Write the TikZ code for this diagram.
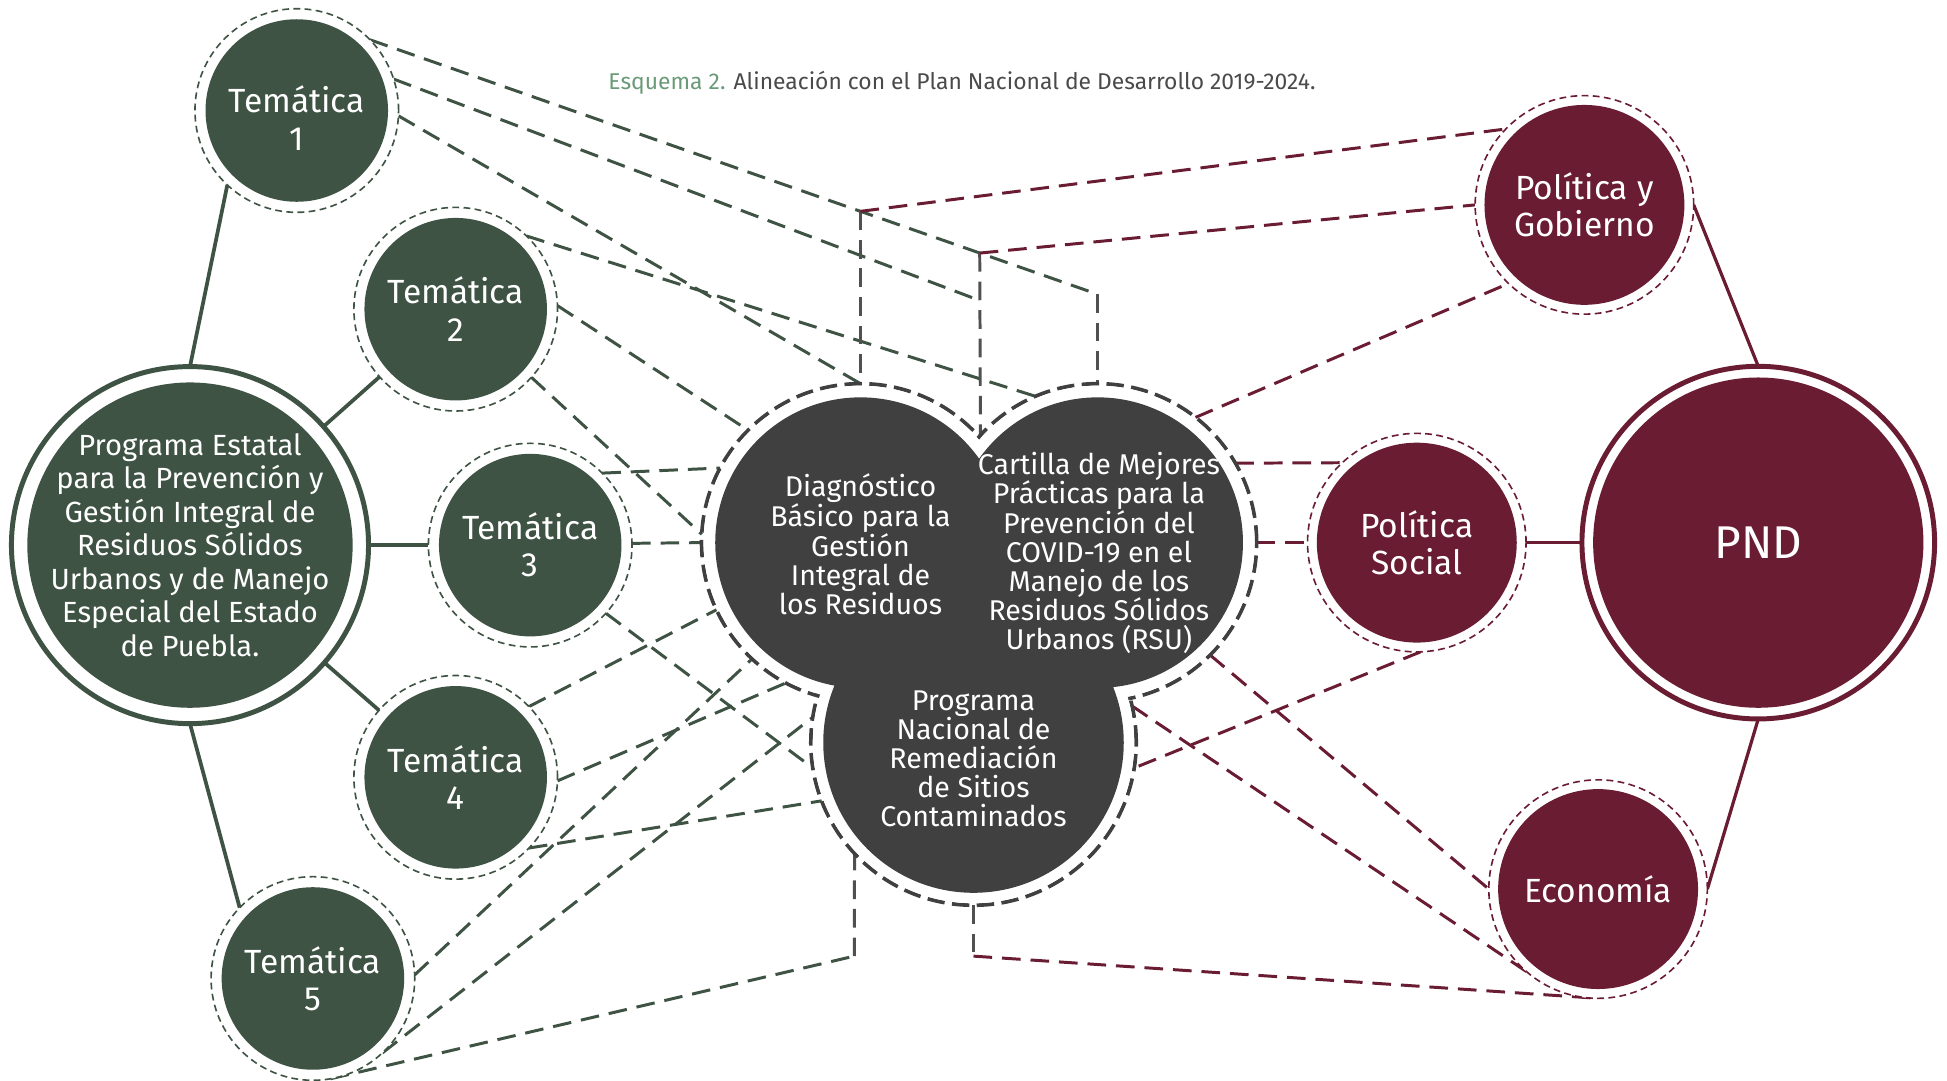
\documentclass[tikz,border=0pt]{standalone}
\usepackage{fontspec}
\setmainfont{Fira Sans}
\definecolor{vg}{HTML}{3E5343}
\definecolor{vm}{HTML}{6A1C33}
\definecolor{vd}{HTML}{404040}
\definecolor{vk}{HTML}{505050}
\definecolor{tg}{HTML}{6A9A78}
\definecolor{tk}{HTML}{4A4A4A}
\pgfdeclarelayer{conn}
\pgfdeclarelayer{ringl}
\pgfdeclarelayer{wfill}
\pgfdeclarelayer{dfill}
\pgfsetlayers{conn,ringl,wfill,dfill,main}
\tikzset{
  every node/.style={inner sep=0pt, outer sep=0pt},
  tem/.style={circle, minimum size=164pt, draw=vg, line width=1.3pt,
    dash pattern=on 5.5pt off 3.5pt, fill=white,
    path picture={\fill[vg] (path picture bounding box.center) circle[radius=73.5pt];},
    text=white, align=center, font=\fontsize{27}{30}\selectfont},
  temt/.style={text=white, align=center, font=\fontsize{27}{30}\selectfont},
  rgt/.style={circle, minimum size=176pt, draw=vm, line width=1.3pt,
    dash pattern=on 5.5pt off 3.5pt, fill=white,
    path picture={\fill[vm] (path picture bounding box.center) circle[radius=80.5pt];},
    text=white, align=center, font=\fontsize{27}{30}\selectfont},
  pe/.style={circle, minimum size=282pt, draw=vg, line width=4pt, fill=white,
    path picture={\fill[vg] (path picture bounding box.center) circle[radius=131pt];},
    text=white, align=center, font=\fontsize{23.5}{27}\selectfont},
  pnd/.style={circle, minimum size=284pt, draw=vm, line width=4pt, fill=white,
    path picture={\fill[vm] (path picture bounding box.center) circle[radius=133pt];},
    text=white, align=center, font=\fontsize{37}{40}\selectfont},
  darkc/.style={circle, minimum size=#1},
  darkt/.style={text=white, align=center, font=\fontsize{23}{23.3}\selectfont},
  gl/.style={draw=vg, line width=2.4pt, dash pattern=on 15pt off 8pt},
  ml/.style={draw=vm, line width=2.4pt, dash pattern=on 15pt off 8pt},
  kl/.style={draw=vk, line width=2.4pt, dash pattern=on 15pt off 8pt},
  sg/.style={draw=vg, line width=3pt},
  sm/.style={draw=vm, line width=2.6pt},
  ttl/.style={anchor=west, font=\fontsize{18.4}{22}\selectfont}
}
\begin{document}
\begin{tikzpicture}[x=1pt, y=-1pt]
\useasboundingbox (0,0) rectangle (1568,870);

\node[ttl] (title) at (490,67) {\textcolor{tg}{Esquema 2.} \textcolor{tk}{Alineación con el Plan Nacional de Desarrollo 2019-2024.}};

% left
\node[pe] (pe) at (153,439) {Programa Estatal\\para la Prevención y\\Gestión Integral de\\Residuos Sólidos\\Urbanos y de Manejo\\Especial del Estado\\de Puebla.};
\node[tem] (t1) at (239,89) {};
\node[temt] (t1T) at (239,95) {Temática\\1};
\node[tem] (t2) at (367,249) {Temática\\2};
\node[tem] (t3) at (427,439) {Temática\\3};
\node[tem] (t4) at (367,626) {Temática\\4};
\node[tem] (t5) at (252,788) {Temática\\5};

% middle
\node[darkc=256pt] (diag) at (693,437) {};
\node[darkc=256pt] (cart) at (884,437) {};
\node[darkc=262pt] (pn) at (784,598) {};
\node[darkt] (diagT) at (693,438) {Diagnóstico\\Básico para la\\Gestión\\Integral de\\los Residuos};
\node[darkt] (cartT) at (885,445) {Cartilla de Mejores\\Prácticas para la\\Prevención del\\COVID-19 en el\\Manejo de los\\Residuos Sólidos\\Urbanos (RSU)};
\node[darkt] (pnT) at (784,611) {Programa\\Nacional de\\Remediación\\de Sitios\\Contaminados};

% right
\node[rgt] (pyg) at (1276,165) {Política y\\Gobierno};
\node[rgt] (ps) at (1141,437) {Política\\Social};
\node[rgt] (econ) at (1287,716) {Economía};
\node[pnd] (pndn) at (1416,437) {PND};

% junction points
\coordinate (A) at (693,170.2);
\coordinate (B) at (789,203.8);
\coordinate (C) at (884,237);
\coordinate (G2) at (789,242);
\coordinate (D1) at (688,770);
\coordinate (D2) at (784,770);

\begin{pgfonlayer}{ringl}
  \draw[vd, line width=3pt, dash pattern=on 14pt off 6pt]
    (diag.center) circle[radius=128pt]
    (cart.center) circle[radius=128pt]
    (pn.center) circle[radius=131pt];
\end{pgfonlayer}
\begin{pgfonlayer}{wfill}
  \fill[white] (diag.center) circle[radius=126.4pt]
    (cart.center) circle[radius=126.4pt]
    (pn.center) circle[radius=129.4pt];
\end{pgfonlayer}
\begin{pgfonlayer}{dfill}
  \fill[vd] (diag.center) circle[radius=117pt]
    (cart.center) circle[radius=117pt]
    (pn.center) circle[radius=121pt];
\end{pgfonlayer}

\begin{pgfonlayer}{conn}
  % solid
  \draw[sg] (pe.north) -- (t1.227);
  \draw[sg] (pe) -- (t2);
  \draw[sg] (pe) -- (t3);
  \draw[sg] (pe) -- (t4);
  \draw[sg] (pe.south) -- (t5.136);
  \draw[sm] (pyg.east) -- (pndn.north);
  \draw[sm] (ps) -- (pndn);
  \draw[sm] (econ.east) -- (pndn.south);
  % green dashed
  \draw[gl] (t1.44) -- (C);
  \draw[gl] (t1.18) -- (G2);
  \draw[gl] (t1.-3) -- (diag.north);
  \draw[gl] (t2.46) -- (cart.113);
  \draw[gl] (t2.2) -- (diag.135);
  \draw[gl] (t2.-42) -- (diag.177);
  \draw[gl] (t3.45) -- (diag.152);
  \draw[gl] (t3.1) -- (diag.180);
  \draw[gl] (t3.-42) -- (pn.189);
  \draw[gl] (t4.44) -- (diag.205);
  \draw[gl] (t4.-2) -- (diag.242);
  \draw[gl] (t4.-44) -- (pn.201);
  \draw[gl] (t5.2) -- (diag.227);
  \draw[gl] (t5.-47) -- (pn.171);
  \draw[gl] (t5.-80) -- (D1);
  % grey verticals
  \draw[kl] (A) -- (diag.north);
  \draw[kl] (B) -- (diag.41.5);
  \draw[kl] (C) -- (cart.north);
  \draw[kl] (D1) -- (pn.223);
  \draw[kl] (pn.south) -- (D2);
  % maroon dashed
  \draw[ml] (A) -- (pyg.136);
  \draw[ml] (B) -- (pyg.180);
  \draw[ml] (cart.52) -- (pyg.226);
  \draw[ml] (cart.30) -- (ps.133);
  \draw[ml] (cart.0) -- (ps.180);
  \draw[ml] (ps.-88) -- (pn.-9);
  \draw[ml] (cart.-45) -- (econ.180);
  \draw[ml] (pn.13) -- (econ.229);
  \draw[ml] (D2) -- (econ.south);
\end{pgfonlayer}
\end{tikzpicture}
\end{document}
